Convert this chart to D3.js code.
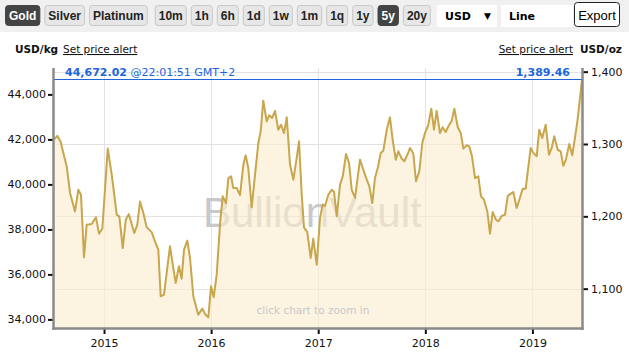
<!DOCTYPE html>
<html>
<head>
<meta charset="utf-8">
<script src="https://cdn.jsdelivr.net/npm/d3@7"></script>
<style>
  body { margin: 0; background: #fff; }
  svg { display: block; }
  .tick text { font-family: "DejaVu Sans", Verdana, sans-serif; font-size: 11px; fill: #111; }
</style>
</head>
<body>
<div id="chart"></div>
<script>
// gold price, 5 years, USD per kg (time as decimal year)
var years = [
  2014.533, 2014.564, 2014.596, 2014.620, 2014.652, 2014.683, 2014.729, 2014.760, 2014.785, 2014.813,
  2014.838, 2014.885, 2014.925, 2014.953, 2014.984, 2015.035, 2015.072, 2015.119, 2015.143, 2015.175,
  2015.203, 2015.231, 2015.283, 2015.311, 2015.336, 2015.367, 2015.399, 2015.445, 2015.476, 2015.507,
  2015.529, 2015.560, 2015.616, 2015.647, 2015.669, 2015.700, 2015.725, 2015.747, 2015.778, 2015.803,
  2015.834, 2015.880, 2015.918, 2015.943, 2015.974, 2015.999, 2016.024, 2016.052, 2016.083, 2016.108,
  2016.139, 2016.161, 2016.186, 2016.207, 2016.239, 2016.270, 2016.301, 2016.323, 2016.347, 2016.379,
  2016.410, 2016.441, 2016.463, 2016.487, 2016.519, 2016.543, 2016.569, 2016.597, 2016.627, 2016.653,
  2016.681, 2016.706, 2016.737, 2016.768, 2016.799, 2016.821, 2016.846, 2016.867, 2016.898, 2016.930,
  2016.954, 2016.986, 2017.017, 2017.042, 2017.063, 2017.094, 2017.126, 2017.148, 2017.173, 2017.204,
  2017.229, 2017.260, 2017.288, 2017.313, 2017.344, 2017.390, 2017.421, 2017.453, 2017.477, 2017.505,
  2017.530, 2017.556, 2017.584, 2017.608, 2017.640, 2017.670, 2017.695, 2017.724, 2017.748, 2017.780,
  2017.804, 2017.836, 2017.857, 2017.888, 2017.913, 2017.944, 2017.972, 2017.997, 2018.028, 2018.056,
  2018.081, 2018.106, 2018.137, 2018.162, 2018.190, 2018.215, 2018.247, 2018.271, 2018.303, 2018.331,
  2018.355, 2018.387, 2018.411, 2018.436, 2018.464, 2018.495, 2018.520, 2018.548, 2018.579, 2018.604,
  2018.629, 2018.660, 2018.683, 2018.713, 2018.744, 2018.769, 2018.791, 2018.822, 2018.853, 2018.878,
  2018.909, 2018.937, 2018.984, 2019.008, 2019.040, 2019.064, 2019.092, 2019.124, 2019.155, 2019.180,
  2019.204, 2019.236, 2019.264, 2019.288, 2019.313, 2019.344, 2019.372, 2019.397, 2019.422, 2019.463
];
var pricesKg = [
  41990, 42160, 41880, 41400, 40800, 39620, 38800, 39760, 39540, 36760,
  38210, 38240, 38540, 37810, 38030, 41590, 40430, 38650, 38580, 37170,
  38430, 38680, 37840, 38210, 39240, 38730, 38090, 37880, 37470, 37100,
  35030, 35100, 37250, 36280, 35620, 36360, 35810, 37100, 37500, 36730,
  35030, 34210, 34480, 34240, 34090, 35470, 34980, 35990, 38210, 39470,
  39170, 40280, 40360, 39840, 39840, 39520, 40880, 41290, 40730, 38980,
  40430, 41840, 42360, 43720, 42800, 43070, 42950, 43270, 42430, 42650,
  42280, 42980, 40880, 40210, 41170, 41920, 39540, 38090, 37880, 36730,
  37590, 36430, 38510, 39110, 39030, 39540, 39760, 39660, 38580, 39990,
  40360, 41350, 40950, 39760, 39400, 41100, 40650, 40210, 39920, 39170,
  40280, 40730, 41400, 41500, 42430, 42980, 41990, 41100, 41470, 41140,
  41030, 41350, 41620, 41370, 40140, 40580, 41840, 42280, 42650, 43360,
  42430, 43270, 42280, 42540, 42330, 42580, 42830, 43360, 42540, 42280,
  41590, 41740, 41690, 41250, 40280, 40360, 39470, 39320, 38800, 37810,
  38770, 38430, 38360, 38600, 38650, 39470, 39570, 39660, 38950, 39320,
  39810, 39810, 41620, 41400, 41250, 42430, 42060, 42650, 41320, 41620,
  42140, 41540, 41470, 40830, 41100, 41800, 41290, 42060, 42880, 44672.02
];
var yearTicks = [2015, 2016, 2017, 2018, 2019];
var ozTicks = [1100, 1200, 1300, 1400];
var kgTicks = [34000, 36000, 38000, 40000, 42000, 44000];
var ozPerKg = 32.1507;
var lastKg = "44,672.02";
var lastOz = "1,389.46";
var lastTime = "@22:01:51 GMT+2";
var metals = ["Gold", "Silver", "Platinum"];
var periods = ["10m", "1h", "6h", "1d", "1w", "1m", "1q", "1y", "5y", "20y"];

var svgWidth = 629;
var svgHeight = 356;
var plot = { left: 54, right: 582, top: 68, bottom: 328 };

var svg = d3.select("#chart").append("svg")
  .attr("width", svgWidth)
  .attr("height", svgHeight)
  .style("font-family", "'DejaVu Sans', Verdana, sans-serif");

// toolbar
svg.append("rect").attr("x", 0).attr("y", 0).attr("width", svgWidth).attr("height", 32).attr("fill", "#f0f0f0");

var bx = 5;
function addButton(label, active) {
  var g = svg.append("g");
  var t = g.append("text")
    .attr("y", 20)
    .style("font-family", "'Liberation Sans', Arial, sans-serif")
    .style("font-size", "12px")
    .style("font-weight", "bold")
    .attr("fill", active ? "#fff" : "#222")
    .text(label);
  var w = t.node().getComputedTextLength() + 7;
  g.insert("rect", "text")
    .attr("x", bx + 0.5).attr("y", 5.5)
    .attr("width", w).attr("height", 20)
    .attr("rx", 3)
    .attr("fill", active ? "#444" : "#e6e6e6")
    .attr("stroke", active ? "#444" : "#c8c8c8");
  t.attr("x", bx + 0.5 + w / 2).attr("text-anchor", "middle");
  bx += w + 5;
}
metals.forEach(function(m) { addButton(m, m === "Gold"); });
bx += 3;
periods.forEach(function(p) { addButton(p, p === "5y"); });

svg.append("rect").attr("x", 437).attr("y", 5).attr("width", 60).attr("height", 22).attr("fill", "#fff");
svg.append("text").attr("x", 445).attr("y", 20).style("font-size", "11px").style("font-weight", "bold").text("USD");
svg.append("text").attr("x", 484).attr("y", 19).style("font-size", "9px").text("▼");
svg.append("rect").attr("x", 501).attr("y", 5).attr("width", 72).attr("height", 22).attr("fill", "#fff");
svg.append("text").attr("x", 509).attr("y", 20).style("font-size", "11px").style("font-weight", "bold").text("Line");
svg.append("rect").attr("x", 574.5).attr("y", 2.5).attr("width", 45).attr("height", 24)
  .attr("rx", 3).attr("fill", "#fff").attr("stroke", "#222");
svg.append("text").attr("x", 597).attr("y", 19.5).attr("text-anchor", "middle")
  .style("font-family", "'Liberation Sans', Arial, sans-serif").style("font-size", "13px").text("Export");

// unit labels
svg.append("text").attr("x", 15).attr("y", 53).style("font-size", "10.5px").style("font-weight", "bold").attr("fill", "#111").text("USD/kg");
svg.append("text").attr("x", 63).attr("y", 53).style("font-size", "10.5px").attr("fill", "#111")
  .style("text-decoration", "underline").text("Set price alert");
svg.append("text").attr("x", 573).attr("y", 53).attr("text-anchor", "end").style("font-size", "10.5px").attr("fill", "#111")
  .style("text-decoration", "underline").text("Set price alert");
svg.append("text").attr("x", 580).attr("y", 53).style("font-size", "10.5px").style("font-weight", "bold").attr("fill", "#111").text("USD/oz");

// scales
var x = d3.scaleLinear().domain([2014.533, 2019.463]).range([plot.left, plot.right]);
var yKg = d3.scaleLinear().domain([33618, 45173]).range([plot.bottom, plot.top]);
var yOz = d3.scaleLinear().domain([33618 / ozPerKg, 45173 / ozPerKg]).range([plot.bottom, plot.top]);

var data = years.map(function(t, i) { return { t: t, v: pricesKg[i] }; });

// grid
var grid = svg.append("g").attr("stroke", "#e2e2e2").attr("stroke-width", 1);
grid.selectAll("line.v").data(yearTicks).enter().append("line")
  .attr("x1", d => Math.round(x(d)) + 0.5).attr("x2", d => Math.round(x(d)) + 0.5)
  .attr("y1", plot.top).attr("y2", plot.bottom);
grid.selectAll("line.h").data(ozTicks).enter().append("line")
  .attr("x1", plot.left).attr("x2", plot.right)
  .attr("y1", d => Math.round(yOz(d)) + 0.5).attr("y2", d => Math.round(yOz(d)) + 0.5);

// watermark
svg.append("text").attr("x", 203).attr("y", 227)
  .style("font-family", "'Liberation Sans', Arial, sans-serif").style("font-size", "42px")
  .attr("fill", "#c8c8c8").text("BullionVault");

// area + line
var area = d3.area().x(d => x(d.t)).y0(plot.bottom).y1(d => yKg(d.v));
var line = d3.line().x(d => x(d.t)).y(d => yKg(d.v));

svg.append("path").datum(data).attr("d", area).attr("fill", "rgb(252,236,207)").attr("fill-opacity", 0.63);
svg.append("path").datum(data).attr("d", line).attr("fill", "none")
  .attr("stroke", "#c8a64c").attr("stroke-width", 2).attr("stroke-linejoin", "round");

svg.append("text").attr("x", 313).attr("y", 314).attr("text-anchor", "middle")
  .style("font-size", "10.5px").attr("fill", "#c8c8c8").text("click chart to zoom in");

// last price line
var lastY = Math.round(yKg(data[data.length - 1].v)) + 0.5;
svg.append("line").attr("x1", plot.left).attr("x2", plot.right).attr("y1", lastY).attr("y2", lastY)
  .attr("stroke", "#1f64d8").attr("stroke-width", 1);
var lt = svg.append("text").attr("x", 65).attr("y", lastY - 4).style("font-size", "11px").attr("fill", "#2266dd");
lt.append("tspan").style("font-weight", "bold").text(lastKg);
lt.append("tspan").text(" " + lastTime);
svg.append("text").attr("x", 570).attr("y", lastY - 4).attr("text-anchor", "end")
  .style("font-size", "11px").style("font-weight", "bold").attr("fill", "#2266dd").text(lastOz);

// axes
var leftAxis = d3.axisLeft(yKg).tickValues(kgTicks).tickSize(5).tickPadding(2).tickFormat(d3.format(","));
var rightAxis = d3.axisRight(yOz).tickValues(ozTicks).tickSize(5).tickPadding(3).tickFormat(d3.format(","));
var bottomAxis = d3.axisBottom(x).tickValues(yearTicks).tickSize(5).tickPadding(5).tickFormat(d3.format("d"));

function styleAxis(g) {
  g.select(".domain").remove();
  g.selectAll(".tick line").attr("stroke", "#111").attr("stroke-width", 2);
}

svg.append("g").attr("transform", `translate(${plot.left - 1}, 0)`).call(leftAxis).call(styleAxis);
svg.append("g").attr("transform", `translate(${plot.right + 1}, 0)`).call(rightAxis).call(styleAxis);
svg.append("g").attr("transform", `translate(0, ${plot.bottom + 1})`).call(bottomAxis).call(styleAxis);

// frame lines
var frame = svg.append("g").attr("stroke", "#8a8a8a").attr("stroke-width", 2.5);
frame.append("line").attr("x1", plot.left - 0.5).attr("x2", plot.left - 0.5).attr("y1", plot.top).attr("y2", plot.bottom + 2);
frame.append("line").attr("x1", plot.right + 0.5).attr("x2", plot.right + 0.5).attr("y1", plot.top).attr("y2", plot.bottom + 2);
frame.append("line").attr("x1", plot.left - 1.5).attr("x2", plot.right + 1.5).attr("y1", plot.bottom + 0.5).attr("y2", plot.bottom + 0.5);
</script>
</body>
</html>
